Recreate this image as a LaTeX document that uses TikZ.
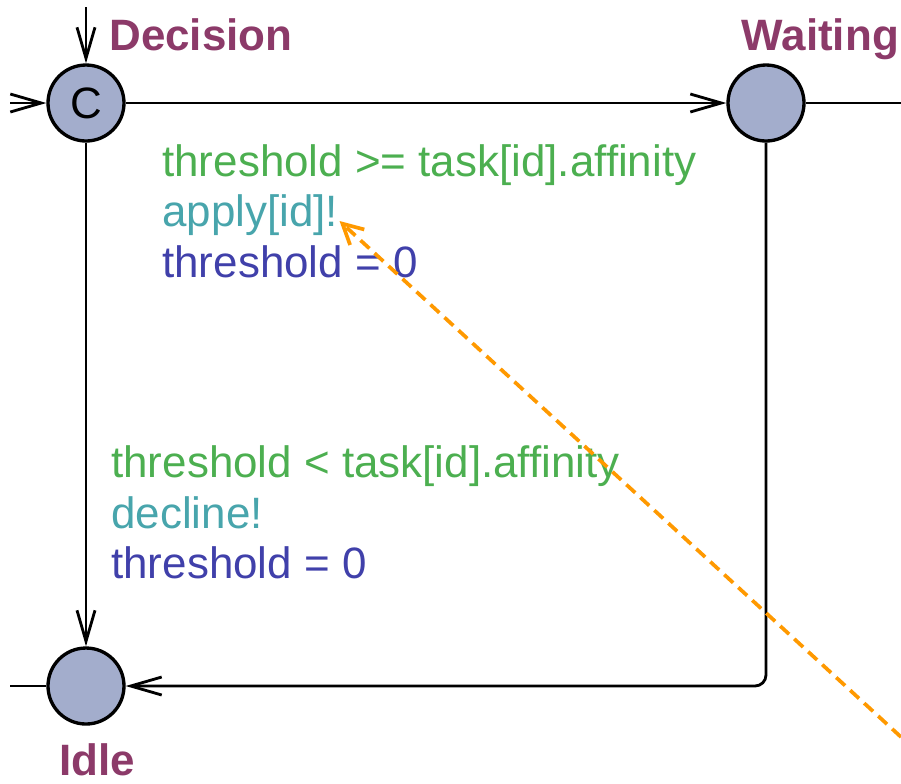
\documentclass[tikz,border=0pt]{standalone}
\usepackage{fontspec}
\setmainfont{Liberation Sans}
\usetikzlibrary{arrows.meta}
\definecolor{locfill}{RGB}{163,173,204}
\definecolor{locname}{RGB}{140,58,105}
\definecolor{guardcol}{RGB}{76,175,80}
\definecolor{synccol}{RGB}{72,165,172}
\definecolor{assigncol}{RGB}{64,64,170}
\definecolor{notecol}{RGB}{255,153,0}
\begin{document}
\begin{tikzpicture}[
    every node/.style={font=\fontsize{25}{30}\selectfont},
    loc/.style={circle, draw, fill=locfill, line width=1.9pt, minimum size=1.52cm, inner sep=0pt},
    locname/.style={anchor=base west, inner sep=0pt, text=locname, font=\fontsize{25}{30}\selectfont\bfseries},
    lbl/.style={anchor=base west, inner sep=0pt},
    edge/.style={line width=1.6pt, -{Straight Barb[length=0.62cm, width=0.36cm, line width=1.6pt]}}
]
    \useasboundingbox (0, 0) rectangle (18.02, -15.66);

    % locations
    \node[loc] (decision) at (1.72, -2.06) {C};
    \node[loc] (waiting) at (15.32, -2.06) {};
    \node[loc] (idle) at (1.72, -13.72) {};
    \node[locname] (decisionname) at (2.18, -1.0) {Decision};
    \node[locname] (waitingname) at (14.83, -1.0) {Waiting};
    \node[locname] (idlename) at (1.18, -15.5) {Idle};

    % loose ends
    \coordinate (inittop) at (1.72, -0.14);
    \coordinate (initleft) at (0.2, -2.06);
    \coordinate (waitout) at (18.02, -2.06);
    \coordinate (idlein) at (0.2, -13.72);

    \draw[edge] (inittop) -- (decision);
    \draw[edge] (initleft) -- (decision);
    \draw[line width=1.6pt] (waiting) -- (waitout);
    \draw[line width=1.6pt] (idlein) -- (idle);

    % transitions
    \draw[edge] (decision) -- (waiting);
    \draw[edge] (decision) -- (idle);
    \draw[edge, rounded corners=0.22cm] (waiting) |- (idle);

    \node[lbl, text=guardcol] (guardapply) at (3.24, -3.52) {threshold >= task[id].affinity};
    \node[lbl, text=synccol] (syncapply) at (3.24, -4.52) {apply[id]!};
    \node[lbl, text=assigncol] (assignapply) at (3.24, -5.54) {threshold = 0};

    \node[lbl, text=guardcol] (guarddecline) at (2.22, -9.54) {threshold < task[id].affinity};
    \node[lbl, text=synccol] (syncdecline) at (2.22, -10.56) {decline!};
    \node[lbl, text=assigncol] (assigndecline) at (2.22, -11.56) {threshold = 0};

    % note pointer
    \coordinate (notestart) at (18.02, -14.74);
    \coordinate (notetip) at (syncapply.base east);
    \draw[notecol, line width=2.1pt, dash pattern=on 0.24cm off 0.14cm,
          -{Straight Barb[length=0.4cm, width=0.42cm, line width=2.1pt]}] (notestart) -- ([xshift=0.02cm, yshift=0.1cm]notetip);
\end{tikzpicture}
\end{document}
